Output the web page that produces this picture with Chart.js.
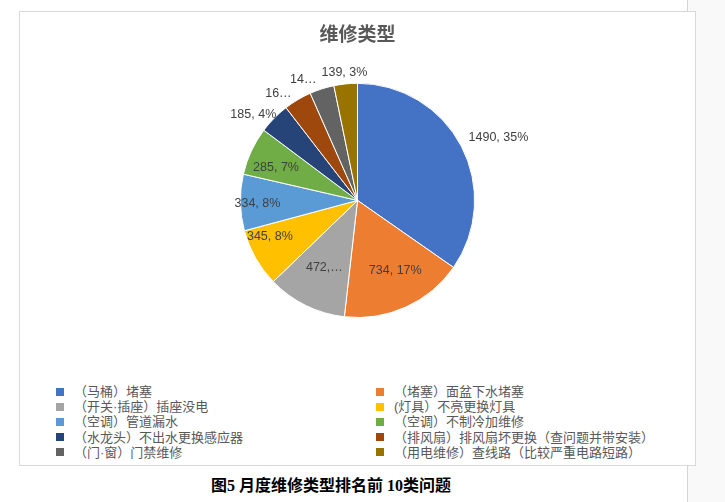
<!DOCTYPE html>
<html>
<head>
<meta charset="utf-8">
<script src="https://cdn.jsdelivr.net/npm/chart.js@4.4.0/dist/chart.umd.min.js"></script>
<style>
    html, body { margin: 0; padding: 0; }
    body {
        width: 725px; height: 502px; position: relative; overflow: hidden;
        background: #ffffff;
        font-family: 'Noto Sans CJK SC', 'Liberation Sans', sans-serif;
    }
    #side {
        position: absolute; left: 687px; top: 0; width: 38px; height: 502px;
        background: #f9f9f9; border-left: 1px solid #d4d4d4;
    }
    #frame {
        position: absolute; left: 19px; top: 11px; width: 675px; height: 453px;
        background: #fff; border: 1px solid #d9d9d9;
    }
    #chartBox { position: absolute; left: 0; top: 0; width: 675px; height: 320px; }
    #legend {
        position: absolute; left: 36px; top: 372px; width: 640px;
        display: grid; grid-template-columns: 320px 320px;
        font-size: 13px; color: #595959; line-height: 15.2px;
        font-family: 'Liberation Sans', 'Noto Sans CJK SC', sans-serif;
    }
    #legend .item { display: flex; align-items: center; white-space: nowrap; }
    #legend .box { width: 8px; height: 8px; margin-right: 10px; flex: none; }
    #caption {
        position: absolute; left: 0; width: 662px; top: 472px; text-align: center;
        font-size: 16px; font-weight: bold; color: #000;
        font-family: 'Liberation Serif', 'Noto Sans CJK SC', serif;
    }
</style>
</head>
<body>
<div id="side"></div>
<div id="frame">
    <div id="chartBox"><canvas id="pieChart"></canvas></div>
    <div id="legend"></div>
</div>
<div id="caption">图5 月度维修类型排名前 10类问题</div>
<script>
// ===== DATA =====
const categories = [
    '（马桶）堵塞',
    '（堵塞）面盆下水堵塞',
    '（开关·插座）插座没电',
    '(灯具）不亮更换灯具',
    '（空调）管道漏水',
    '（空调）不制冷加维修',
    '（水龙头）不出水更换感应器',
    '（排风扇）排风扇坏更换（查问题并带安装）',
    '（门·窗）门禁维修',
    '（用电维修）查线路（比较严重电路短路）'
];
const values = [1490, 734, 472, 345, 334, 285, 185, 165, 145, 139];
const colors = ['#4472C4', '#ED7D31', '#A5A5A5', '#FFC000', '#5B9BD5',
                '#70AD47', '#264478', '#9E480E', '#636363', '#997300'];

// label placement: distance from centre (share of radius), angle nudge (deg), truncation (0 = full)
const labelRadius = [1.09, 0.68, 0.64, 0.81, 0.855, 0.75, 1.01, 1.07, 1.09, 1.10];
const labelShift = [-2, -4, 0, 7, -1, -3, 2, -1, -1, 0];
const labelCut = [0, 0, 4, 0, 0, 0, 0, 2, 2, 0];

const total = values.reduce((s, v) => s + v, 0);

function labelText(i) {
    const full = values[i] + ', ' + Math.round(values[i] / total * 100) + '%';
    return labelCut[i] ? full.slice(0, labelCut[i]) + '…' : full;
}

const sliceLabels = {
    id: 'sliceLabels',
    afterDatasetsDraw(chart) {
        const ctx = chart.ctx;
        const meta = chart.getDatasetMeta(0);
        ctx.save();
        ctx.font = '12.5px "Liberation Sans", sans-serif';
        ctx.fillStyle = '#404040';
        ctx.textBaseline = 'middle';
        meta.data.forEach((arc, i) => {
            const p = arc.getProps(['x', 'y', 'startAngle', 'endAngle', 'outerRadius'], true);
            const mid = (p.startAngle + p.endAngle) / 2 + labelShift[i] * Math.PI / 180;
            const r = p.outerRadius * labelRadius[i];
            const dx = Math.cos(mid);
            // outside labels hang off the rim by their near edge
            if (labelRadius[i] > 1 && Math.abs(dx) > 0.2) {
                ctx.textAlign = dx < 0 ? 'right' : 'left';
            } else {
                ctx.textAlign = 'center';
            }
            ctx.fillText(labelText(i), p.x + dx * r, p.y + Math.sin(mid) * r);
        });
        ctx.restore();
    }
};

function renderLegend() {
    const legend = document.getElementById('legend');
    categories.forEach((name, i) => {
        const item = document.createElement('div');
        item.className = 'item';
        const box = document.createElement('span');
        box.className = 'box';
        box.style.background = colors[i];
        const txt = document.createElement('span');
        txt.textContent = name;
        item.appendChild(box);
        item.appendChild(txt);
        legend.appendChild(item);
    });
}

function renderPie() {
    const ctx = document.getElementById('pieChart').getContext('2d');
    new Chart(ctx, {
        type: 'pie',
        data: {
            labels: categories,
            datasets: [{
                data: values,
                backgroundColor: colors,
                borderColor: '#ffffff',
                borderWidth: 1
            }]
        },
        options: {
            responsive: true,
            maintainAspectRatio: false,
            animation: false,
            layout: { padding: { top: 0, bottom: 14 } },
            plugins: {
                legend: { display: false },
                tooltip: { enabled: false },
                title: {
                    display: true,
                    text: '维修类型',
                    color: '#595959',
                    font: { size: 19, weight: 'bold', family: "'Noto Sans CJK SC', sans-serif" },
                    padding: { top: 10, bottom: 38 }
                }
            }
        },
        plugins: [sliceLabels]
    });
}

renderLegend();
renderPie();
</script>
</body>
</html>
